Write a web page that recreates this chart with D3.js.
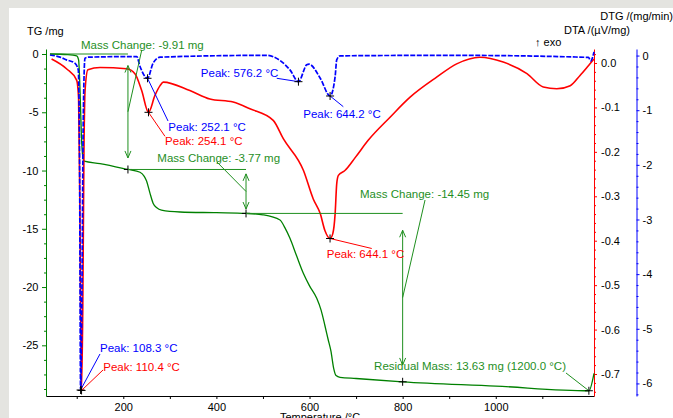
<!DOCTYPE html>
<html>
<head>
<meta charset="utf-8">
<script src="https://cdn.jsdelivr.net/npm/d3@7"></script>
<style>
  body { margin: 0; background: #fff; }
  text { font-family: "Liberation Sans", Arial, sans-serif; font-size: 11px; }
  text.note { font-size: 11.5px; }
</style>
</head>
<body>
<div id="chart"></div>
<script>
// TG curve, mass change in mg
const tgTemp = [42.5, 80, 100, 104, 107, 110, 113, 116, 150, 210, 236, 245, 250, 257, 264, 272, 282, 322, 400, 463.6, 500, 536.6, 547, 558, 572, 586.7, 600, 615.5, 625, 633, 640, 646, 652, 657, 665.5, 700, 800, 1000, 1200, 1211]
const tgMass = [0, -0.05, -0.15, -0.5, -3, -7, -8.8, -9.2, -9.4, -9.91, -10.15, -10.5, -10.9, -11.9, -12.8, -13.2, -13.4, -13.56, -13.62, -13.68, -13.8, -14.25, -14.9, -15.82, -17.3, -18.82, -19.9, -20.97, -22, -23.3, -24.5, -25.5, -27.0, -27.6, -27.75, -27.85, -28.13, -28.5, -28.9, -27.4]

// DTA curve, uV/mg
const dtaTemp = [46, 78, 100, 104, 107, 110.4, 113, 115.5, 118, 124, 150, 207, 225, 239.5, 254.1, 268, 279, 286, 343, 386, 436, 472, 522, 544, 587, 608, 623, 633, 644.1, 650, 655, 658.4, 662, 676, 698, 726, 773, 816, 873, 916, 966, 1016, 1067, 1102, 1131, 1160, 1181, 1199, 1211]
const dtaValue = [0.009, -0.013, -0.039, -0.08, -0.35, -0.737, -0.55, -0.2, -0.06, -0.015, -0.01, -0.013, -0.024, -0.062, -0.111, -0.073, -0.051, -0.043, -0.062, -0.081, -0.088, -0.103, -0.129, -0.171, -0.242, -0.306, -0.339, -0.377, -0.395, -0.384, -0.339, -0.272, -0.253, -0.242, -0.213, -0.174, -0.122, -0.077, -0.032, -0.002, 0.013, 0.002, -0.024, -0.054, -0.058, -0.051, -0.028, -0.006, 0.009]

// DTG curve, mg/min
const dtgTemp = [42.5, 64, 78, 96, 103.3, 106, 108.3, 111, 114, 117.7, 125, 229, 236, 252.1, 264, 279, 508, 537, 558, 576.2, 594, 599, 623, 644.2, 655, 658.4, 665.5, 902, 1199, 1204, 1211]
const dtgValue = [0.013, -0.029, -0.079, -0.139, -0.262, -1.8, -6.12, -4.5, -1.2, -0.05, -0.029, -0.018, -0.2, -0.416, -0.139, -0.029, 0.004, -0.092, -0.262, -0.478, -0.17, -0.158, -0.414, -0.74, -0.385, -0.079, -0.005, 0.004, -0.033, -0.097, 0.068]

// tick labels
const xTicks = [200, 400, 600, 800, 1000]
const tgTicks = [0, -5, -10, -15, -20, -25]
const dtaTicks = [0, -0.1, -0.2, -0.3, -0.4, -0.5, -0.6, -0.7]
const dtgTicks = [0, -1, -2, -3, -4, -5, -6]

// peaks
const peakTemp = [108.3, 110.4, 252.1, 254.1, 576.2, 644.2, 644.1]
const peakValue = [-6.12, -0.737, -0.416, -0.111, -0.478, -0.74, -0.395]
const peakCurve = ["dtg", "dta", "dtg", "dta", "dtg", "dtg", "dta"]

// mass change steps
const stepFrom = [42.5, 210, 463.6]
const stepTo = [210, 463.6, 800]
const stepStartMass = [0, -9.91, -13.68]
const stepEndMass = [-9.91, -13.68, -28.13]
const stepLabel = ["Mass Change: -9.91 mg", "Mass Change: -3.77 mg", "Mass Change: -14.45 mg"]

const residualTemp = 1200
const residualMass = -28.9
const residualLabel = "Residual Mass: 13.63 mg (1200.0 °C)"

// label placement (pixel offsets: text dx,dy, anchor, leader end lx,ly)
const peakLayout = [
  {dx: 19.4, dy: -37.7, anchor: "start", lx: 19.4, ly: -36},
  {dx: 21.7, dy: -19.7, anchor: "start", lx: 21.5, ly: -20.5},
  {dx: 20.8, dy: 53, anchor: "start", lx: 20.5, ly: 42.7},
  {dx: 16.6, dy: 33, anchor: "start", lx: 16.5, ly: 24},
  {dx: -20.1, dy: -4.4, anchor: "end", lx: -21.7, ly: -3.4},
  {dx: -26.8, dy: 22, anchor: "start", lx: 13.2, ly: 10.7},
  {dx: -3.3, dy: 19.7, anchor: "start", lx: 41.7, ly: 10}
]
const stepLayout = [
  {dx: -46.9, dy: -62.7, lx: 13.8, ly: -61.7},
  {dx: -88.7, dy: -29.1, lx: -29.3, ly: -29.7},
  {dx: -42.6, dy: -99.3, lx: 22.4, ly: -97.6}
]

const width = 673, height = 418
const plot = {left: 46, right: 594, top: 49, bottom: 396}

const svg = d3.select("#chart")
  .append("svg")
    .attr("width", width)
    .attr("height", height)

svg.append("rect").attr("width", width).attr("height", height).attr("fill", "#e4e4e0")
svg.append("rect").attr("x", 9).attr("y", 8).attr("width", width - 9).attr("height", height - 8).attr("fill", "#fff")

const x = d3.scaleLinear().domain([34, 1211]).range([plot.left, plot.right])
const yTG = d3.scaleLinear().domain([-29.35, 0.43]).range([plot.bottom, plot.top])
const yDTA = d3.scaleLinear().domain([-0.7495, 0.0315]).range([plot.bottom, plot.top])
const yDTG = d3.scaleLinear().domain([-6.23, 0.12]).range([plot.bottom, plot.top])

const font = "'Liberation Sans', Arial, sans-serif"

function styleAxis(g, color) {
  g.attr("font-size", 11).attr("font-family", font)
  g.select(".domain").attr("stroke", color)
  g.selectAll(".tick line").attr("stroke", color)
  g.selectAll(".tick text").attr("fill", "#000")
}

// minor ticks
const tgMinor = d3.range(-28.75, 0.01, 1.25).filter(d => Math.abs(d % 5) > 0.01)
const xMinor = [100, 300, 500, 700, 900, 1100]
const dtaMinor = d3.range(-74, 3, 2).map(d => d / 100).filter(d => Math.abs(Math.round(d * 100) % 10) !== 0)
const dtgMinor = d3.range(-62, 1, 2).map(d => d / 10).filter(d => Math.abs(Math.round(d * 10) % 10) !== 0)

// left TG axis
svg.append("g").attr("transform", `translate(${plot.left},0)`)
  .call(d3.axisLeft(yTG).tickValues(tgMinor).tickSize(2).tickFormat(""))
  .call(g => { g.select(".domain").remove(); g.selectAll("line").attr("stroke", "#008000") })
svg.append("g").attr("transform", `translate(${plot.left},0)`)
  .call(d3.axisLeft(yTG).tickValues(tgTicks).tickSize(4).tickSizeOuter(0).tickPadding(3.5).tickFormat(d => d.toFixed(0)))
  .call(g => styleAxis(g, "#008000"))

// bottom axis
svg.append("g").attr("transform", `translate(0,${plot.bottom})`)
  .call(d3.axisBottom(x).tickValues(xMinor).tickSize(3).tickFormat(""))
  .call(g => { g.select(".domain").remove(); g.selectAll("line").attr("stroke", "#000") })
svg.append("g").attr("transform", `translate(0,${plot.bottom})`)
  .call(d3.axisBottom(x).tickValues(xTicks).tickSize(3).tickSizeOuter(0).tickPadding(3.7).tickFormat(d => d))
  .call(g => styleAxis(g, "#000"))

// DTA axis (red)
svg.append("g").attr("transform", `translate(${plot.right},0)`)
  .call(d3.axisRight(yDTA).tickValues(dtaMinor).tickSize(2).tickFormat(""))
  .call(g => { g.select(".domain").remove(); g.selectAll("line").attr("stroke", "#ff0000") })
svg.append("g").attr("transform", `translate(${plot.right},0)`)
  .call(d3.axisRight(yDTA).tickValues(dtaTicks).tickSize(3).tickSizeOuter(0).tickPadding(4).tickFormat(d => d.toFixed(1)))
  .call(g => styleAxis(g, "#ff0000"))

// DTG axis (blue)
svg.append("g").attr("transform", "translate(636.5,0)")
  .call(d3.axisRight(yDTG).tickValues(dtgMinor).tickSize(2).tickFormat(""))
  .call(g => { g.select(".domain").remove(); g.selectAll("line").attr("stroke", "#0000ff") })
svg.append("g").attr("transform", "translate(636.5,0)")
  .call(d3.axisRight(yDTG).tickValues(dtgTicks).tickSize(3).tickSizeOuter(0).tickPadding(3).tickFormat(d => d.toFixed(0)))
  .call(g => styleAxis(g, "#0000ff"))

// axis titles
svg.append("text").attr("x", 27).attr("y", 35).text("TG /mg")
svg.append("text").attr("x", 673).attr("y", 20).attr("text-anchor", "end").text("DTG /(mg/min)")
svg.append("text").attr("x", 630).attr("y", 34).attr("text-anchor", "end").text("DTA /(µV/mg)")
svg.append("text").attr("x", 535).attr("y", 46).text("↑ exo")
svg.append("text").attr("x", (plot.left + plot.right) / 2).attr("y", 421).attr("text-anchor", "middle").text("Temperature /°C")

// curves
const tgData = tgTemp.map((t, i) => ({t, v: tgMass[i]}))
const dtaData = dtaTemp.map((t, i) => ({t, v: dtaValue[i]}))
const dtgData = dtgTemp.map((t, i) => ({t, v: dtgValue[i]}))

svg.append("path").datum(tgData)
  .attr("fill", "none").attr("stroke", "#008000").attr("stroke-width", 1.3)
  .attr("d", d3.line().x(d => x(d.t)).y(d => yTG(d.v)).curve(d3.curveMonotoneX))

svg.append("path").datum(dtaData)
  .attr("fill", "none").attr("stroke", "#ff0000").attr("stroke-width", 1.6)
  .attr("d", d3.line().x(d => x(d.t)).y(d => yDTA(d.v)).curve(d3.curveMonotoneX))

svg.append("path").datum(dtgData)
  .attr("fill", "none").attr("stroke", "#0000ff").attr("stroke-width", 1.7)
  .attr("stroke-dasharray", "5,1.5")
  .attr("d", d3.line().x(d => x(d.t)).y(d => yDTG(d.v)).curve(d3.curveMonotoneX))

// mass change annotations
const green = "#1f8f1f"
const cross = "M-4,0H4M0,-4V4"

stepFrom.forEach((t0, i) => {
  const xa = x(stepTo[i])
  const y0 = yTG(stepStartMass[i]), y1 = yTG(stepEndMass[i])
  const inset = (y1 - y0) * 0.1
  const a = y0 + inset, b = y1 - inset
  const mid = (y0 + y1) / 2
  const lay = stepLayout[i]

  svg.append("line").attr("x1", x(t0)).attr("x2", xa).attr("y1", y0).attr("y2", y0)
    .attr("stroke", green)
  svg.append("line").attr("x1", xa).attr("x2", xa).attr("y1", a).attr("y2", b)
    .attr("stroke", green)
  svg.append("path")
    .attr("d", `M${xa - 3},${a + 7}L${xa},${a}L${xa + 3},${a + 7}M${xa - 3},${b - 7}L${xa},${b}L${xa + 3},${b - 7}`)
    .attr("fill", "none").attr("stroke", green)
  svg.append("line").attr("x1", xa).attr("y1", mid).attr("x2", xa + lay.lx).attr("y2", mid + lay.ly)
    .attr("stroke", green)
  svg.append("text").attr("class", "note").attr("x", xa + lay.dx).attr("y", mid + lay.dy).attr("fill", green).text(stepLabel[i])
  svg.append("path").attr("d", cross).attr("stroke", "#000")
    .attr("transform", `translate(${xa},${y1})`)
})

// residual mass
const rx = x(residualTemp), ry = yTG(residualMass)
svg.append("line").attr("x1", rx).attr("y1", ry).attr("x2", rx - 22.9).attr("y2", ry - 17.8).attr("stroke", green)
svg.append("text").attr("class", "note").attr("x", rx - 22.9).attr("y", ry - 20.8).attr("text-anchor", "end").attr("fill", green).text(residualLabel)
svg.append("path").attr("d", cross).attr("stroke", "#000").attr("transform", `translate(${rx},${ry})`)

// peak annotations
peakTemp.forEach((t, i) => {
  const isDtg = peakCurve[i] === "dtg"
  const color = isDtg ? "#0000ff" : "#ff0000"
  const px = x(t), py = isDtg ? yDTG(peakValue[i]) : yDTA(peakValue[i])
  const lay = peakLayout[i]
  svg.append("line").attr("x1", px).attr("y1", py).attr("x2", px + lay.lx).attr("y2", py + lay.ly)
    .attr("stroke", color)
  svg.append("text").attr("class", "note").attr("x", px + lay.dx).attr("y", py + lay.dy)
    .attr("text-anchor", lay.anchor).attr("fill", color)
    .text("Peak: " + t.toFixed(1) + " °C")
  svg.append("path").attr("d", cross).attr("stroke", "#000").attr("transform", `translate(${px},${py})`)
})
</script>
</body>
</html>
